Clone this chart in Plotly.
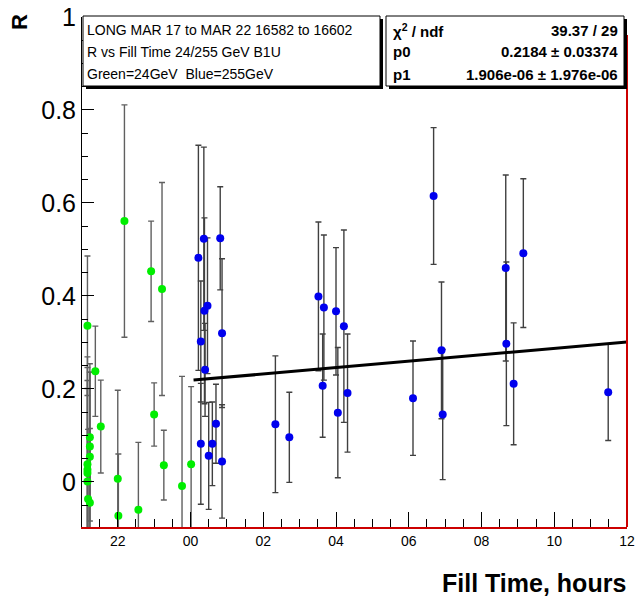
import datetime as dt
import plotly.graph_objects as go

# ---- data -------------------------------------------------------------
# fill times (time of day) and ratio R with its error, 24 GeV (green)
green_time = ["21:10", "21:23", "21:32", "21:14", "21:14", "21:14", "21:10",
              "21:10", "21:10", "21:10", "21:11", "21:14", "22:11", "22:00",
              "22:01", "22:34", "22:55", "23:00", "23:13", "23:16", "23:46",
              "00:01"]
green_r = [0.336, 0.238, 0.119, 0.096, 0.076, 0.054, 0.038, 0.026, 0.019,
           0.001, -0.037, -0.045, 0.561, 0.007, -0.073, -0.060, 0.453, 0.145,
           0.415, 0.036, -0.009, 0.038]
green_err = [0.150, 0.097, 0.100, 0.140, 0.160, 0.200, 0.180, 0.220, 0.250,
             0.200, 0.150, 0.160, 0.250, 0.190, 0.133, 0.145, 0.108, 0.068,
             0.229, 0.075, 0.236, 0.167]

# 255 GeV (blue)
blue_time = ["00:13", "00:22", "00:49", "00:28", "00:23", "00:17", "00:52",
             "00:24", "00:42", "00:17", "00:36", "00:30", "00:52", "02:20",
             "02:43", "03:31", "03:40", "03:38", "04:00", "04:03", "04:13",
             "04:19", "06:07", "06:41", "06:54", "06:56", "08:40", "08:41",
             "08:53", "09:09", "11:29"]
blue_r = [0.482, 0.523, 0.524, 0.379, 0.368, 0.302, 0.320, 0.241, 0.125,
          0.082, 0.082, 0.056, 0.044, 0.124, 0.096, 0.399, 0.375, 0.207,
          0.367, 0.149, 0.335, 0.191, 0.180, 0.615, 0.283, 0.145, 0.460,
          0.297, 0.211, 0.492, 0.193]
blue_err = [0.242, 0.197, 0.111, 0.146, 0.200, 0.130, 0.160, 0.100, 0.085,
            0.130, 0.090, 0.115, 0.122, 0.147, 0.097, 0.160, 0.156, 0.111,
            0.137, 0.140, 0.207, 0.127, 0.123, 0.147, 0.147, 0.140, 0.200,
            0.176, 0.131, 0.160, 0.104]

# linear fit  R = p0 + p1 * t   (t in seconds after midnight)
p0, p0_err = 0.2184, 0.03374
p1, p1_err = 1.906e-06, 1.976e-06
chi2, ndf = 39.37, 29
fit_range = ["00:05", "12:00"]

title_lines = ["LONG MAR 17 to MAR 22 16582 to 16602",
               "R vs Fill Time 24/255 GeV B1U",
               "Green=24GeV  Blue=255GeV"]

# ---- helpers ----------------------------------------------------------
MIDNIGHT = dt.datetime(2013, 3, 22, 0, 0)


def to_dt(hhmm):
    h, m = map(int, hhmm.split(":"))
    t = MIDNIGHT.replace(hour=h, minute=m)
    if h >= 18:  # evening fills belong to the previous day
        t -= dt.timedelta(days=1)
    return t


fig = go.Figure()

fig.add_trace(go.Scatter(
    x=[to_dt(t) for t in green_time], y=green_r, mode="markers",
    marker=dict(color="#00ee00", size=8),
    error_y=dict(type="data", array=green_err, color="#606060",
                 thickness=1.4, width=3),
    showlegend=False))

fig.add_trace(go.Scatter(
    x=[to_dt(t) for t in blue_time], y=blue_r, mode="markers",
    marker=dict(color="#0000ee", size=8),
    error_y=dict(type="data", array=blue_err, color="#404040",
                 thickness=1.4, width=3),
    showlegend=False))

fit_t = [to_dt(t) for t in fit_range]
fit_y = [p0 + p1 * (t - MIDNIGHT).total_seconds() for t in fit_t]
fig.add_trace(go.Scatter(x=fit_t, y=fit_y, mode="lines",
                         line=dict(color="black", width=3),
                         showlegend=False))

# ---- layout -----------------------------------------------------------
L, R, T, B = 82, 17, 17, 79
W, H = 644, 606
PW, PH = W - L - R, H - T - B


def px(x):
    return (x - L) / PW


def py(y):
    return (H - B - y) / PH


FONT = "Liberation Sans, Arial, sans-serif"

fig.update_layout(
    width=W, height=H,
    margin=dict(l=L, r=R, t=T, b=B, autoexpand=False),
    paper_bgcolor="white", plot_bgcolor="white",
    font=dict(family=FONT, color="black"),
)

fig.update_xaxes(
    type="date", automargin=False,
    range=[dt.datetime(2013, 3, 21, 21, 1), dt.datetime(2013, 3, 22, 12, 0)],
    tickformat="%H", dtick=2 * 3600 * 1000,
    tick0=dt.datetime(2013, 3, 21, 22, 0),
    ticks="inside", ticklen=15, tickwidth=1, tickcolor="black",
    minor=dict(dtick=30 * 60 * 1000, ticks="inside", ticklen=8,
               tickcolor="black", tickwidth=1),
    showgrid=False, zeroline=False,
    showline=True, linecolor="#cc0000", linewidth=2,
    tickfont=dict(size=14, color="black"),
)

fig.update_yaxes(
    automargin=False,
    range=[-0.097, 1.0], dtick=0.2, tick0=0,
    ticks="inside", ticklen=12, tickwidth=1, tickcolor="black",
    minor=dict(dtick=0.05, ticks="inside", ticklen=6,
               tickcolor="black", tickwidth=1),
    showgrid=False, zeroline=False,
    showline=True, linecolor="black", linewidth=1,
    tickfont=dict(size=25, color="black"),
)

shapes = [
    # right frame edge
    dict(type="line", xref="paper", yref="paper", x0=1, x1=1,
         y0=0, y1=py(35), line=dict(color="#cc0000", width=2)),
]

# text boxes with drop shadow
for x0, x1 in [(83, 380), (386, 624)]:
    shapes.append(dict(type="rect", xref="paper", yref="paper",
                       x0=px(x0 + 3), x1=px(x1 + 3), y0=py(89), y1=py(19),
                       fillcolor="black", line=dict(width=0)))
    shapes.append(dict(type="rect", xref="paper", yref="paper",
                       x0=px(x0), x1=px(x1), y0=py(86), y1=py(16),
                       fillcolor="white", line=dict(color="black", width=1)))

annotations = []
for i, line in enumerate(title_lines):
    annotations.append(dict(xref="paper", yref="paper", x=px(85),
                            y=py(30 + 22 * i), text=line, showarrow=False,
                            xanchor="left", yanchor="middle",
                            font=dict(size=14, family=FONT)))

stats = [("χ<sup>2</sup> / ndf", f"{chi2:.2f} / {ndf}"),
         ("p0", f"{p0:.4f} ± {p0_err:.5f}"),
         ("p1", f"{p1:.3e} ± {p1_err:.3e}")]
for i, (lab, val) in enumerate(stats):
    yy = py(30 + 22 * i)
    annotations.append(dict(xref="paper", yref="paper", x=px(391), y=yy,
                            text=f"<b>{lab}</b>", showarrow=False,
                            xanchor="left", yanchor="middle",
                            font=dict(size=15, family=FONT)))
    annotations.append(dict(xref="paper", yref="paper", x=px(620), y=yy,
                            text=f"<b>{val}</b>", showarrow=False,
                            xanchor="right", yanchor="middle",
                            font=dict(size=15, family=FONT)))

annotations.append(dict(xref="paper", yref="paper", x=px(20), y=py(22),
                        text="<b>R</b>", textangle=-90, showarrow=False,
                        xanchor="center", yanchor="middle",
                        font=dict(size=22, family=FONT)))
annotations.append(dict(xref="paper", yref="paper", x=px(628), y=py(583),
                        text="<b>Fill Time, hours</b>", showarrow=False,
                        xanchor="right", yanchor="middle",
                        font=dict(size=25, family=FONT)))

fig.update_layout(shapes=shapes, annotations=annotations)

fig.write_html("out.html")
